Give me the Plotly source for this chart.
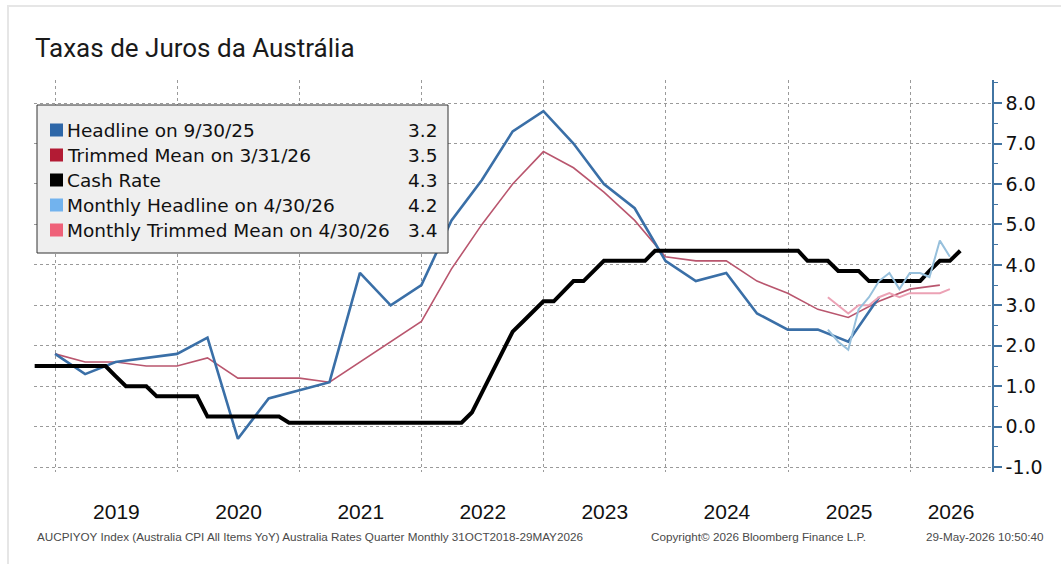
import pandas as pd
import plotly.graph_objects as go

# ---- data -------------------------------------------------------------
# Quarterly CPI, year-on-year %, quarter ends from Dec 2018
headline = [1.8, 1.3, 1.6, 1.7, 1.8, 2.2, -0.3, 0.7, 0.9, 1.1, 3.8, 3.0, 3.5,
            5.1, 6.1, 7.3, 7.8, 7.0, 6.0, 5.4, 4.1, 3.6, 3.8, 2.8, 2.4, 2.4,
            2.1, 3.2]
trimmed_mean = [1.8, 1.6, 1.6, 1.5, 1.5, 1.7, 1.2, 1.2, 1.2, 1.1, 1.6, 2.1,
                2.6, 3.9, 5.0, 6.0, 6.8, 6.4, 5.8, 5.1, 4.2, 4.1, 4.1, 3.6,
                3.3, 2.9, 2.7, 3.1, 3.4, 3.5]

# RBA cash rate, month ends from Oct 2018
cash_rate = (
    [1.5, 1.5, 1.5]                                                        # 2018
    + [1.5, 1.5, 1.5, 1.5, 1.5, 1.25, 1.0, 1.0, 1.0, 0.75, 0.75, 0.75]     # 2019
    + [0.75, 0.75, 0.25, 0.25, 0.25, 0.25, 0.25, 0.25, 0.25, 0.25, 0.1, 0.1]  # 2020
    + [0.1] * 12                                                           # 2021
    + [0.1, 0.1, 0.1, 0.1, 0.35, 0.85, 1.35, 1.85, 2.35, 2.6, 2.85, 3.1]   # 2022
    + [3.1, 3.35, 3.6, 3.6, 3.85, 4.1, 4.1, 4.1, 4.1, 4.1, 4.35, 4.35]     # 2023
    + [4.35] * 12                                                          # 2024
    + [4.35, 4.1, 4.1, 4.1, 3.85, 3.85, 3.85, 3.6, 3.6, 3.6, 3.6, 3.6]     # 2025
    + [3.6, 3.85, 4.1, 4.1, 4.35]                                          # 2026
)

# Monthly CPI indicator, month ends from Apr 2025
monthly_headline = [2.4, 2.1, 1.9, 2.9, 3.2, 3.6, 3.8, 3.4, 3.8, 3.8, 3.7, 4.6, 4.2]
monthly_trimmed = [3.2, 3.0, 2.8, 3.0, 3.0, 3.2, 3.3, 3.2, 3.3, 3.3, 3.3, 3.3, 3.4]

years = [2019, 2020, 2021, 2022, 2023, 2024, 2025, 2026]
y_ticks = [-1, 0, 1, 2, 3, 4, 5, 6, 7, 8]

quarter_ends = pd.date_range("2018-12-31", periods=len(trimmed_mean), freq=pd.offsets.QuarterEnd())
headline_dates = quarter_ends[:len(headline)]
trimmed_dates = quarter_ends
cash_dates = pd.date_range("2018-10-31", periods=len(cash_rate), freq=pd.offsets.MonthEnd())
monthly_dates = pd.date_range("2025-04-30", periods=len(monthly_headline), freq=pd.offsets.MonthEnd())

x_start = pd.Timestamp("2018-10-29")
x_end = pd.Timestamp("2026-09-03")

# ---- styling ------------------------------------------------------------
C_HEAD, C_HEAD_KEY = "#3A6FA7", "#2E67A8"
C_TRIM, C_TRIM_KEY = "#B9566E", "#B31B34"
C_CASH = "#000000"
C_MHEAD, C_MHEAD_KEY = "#97C0DC", "#72B3EE"
C_MTRIM, C_MTRIM_KEY = "#ECA2B5", "#EF6179"
GRID = "#9A9A9A"
AXIS_BLUE = "#4275A3"
BOX_FONT = "DejaVu Sans"

fig = go.Figure()
fig.add_trace(go.Scatter(x=trimmed_dates, y=trimmed_mean, mode="lines",
                         line=dict(color=C_TRIM, width=1.6), name="Trimmed Mean"))
fig.add_trace(go.Scatter(x=headline_dates, y=headline, mode="lines",
                         line=dict(color=C_HEAD, width=2.6), name="Headline"))
fig.add_trace(go.Scatter(x=cash_dates, y=cash_rate, mode="lines",
                         line=dict(color=C_CASH, width=4), name="Cash Rate"))
fig.add_trace(go.Scatter(x=monthly_dates, y=monthly_trimmed, mode="lines",
                         line=dict(color=C_MTRIM, width=2), name="Monthly Trimmed Mean"))
fig.add_trace(go.Scatter(x=monthly_dates, y=monthly_headline, mode="lines",
                         line=dict(color=C_MHEAD, width=2), name="Monthly Headline"))

# Year labels centred on the visible part of each calendar year
year_starts = [pd.Timestamp(f"{y}-01-01") for y in years]
label_pos = []
for y in years:
    a = max(pd.Timestamp(f"{y}-01-01"), x_start)
    b = min(pd.Timestamp(f"{y + 1}-01-01"), x_end)
    label_pos.append(a + (b - a) / 2)

fig.update_xaxes(
    type="date", range=[x_start, x_end],
    tickmode="array", tickvals=label_pos, ticktext=[str(y) for y in years],
    showgrid=False, zeroline=False, showline=False, ticks="",
    tickfont=dict(family="Liberation Sans", size=21, color="#111111"),
    ticklabelstandoff=25,
    minor=dict(tickmode="array", tickvals=year_starts, showgrid=True,
               gridcolor=GRID, griddash="dot", gridwidth=1, ticks=""),
)
fig.update_yaxes(
    side="right", range=[-1.12, 8.57],
    tickmode="array", tickvals=y_ticks, ticktext=[f"{v:.1f}" for v in y_ticks],
    showgrid=True, gridcolor=GRID, griddash="dot", gridwidth=1,
    zeroline=False, showline=True, linecolor=AXIS_BLUE, linewidth=1.5,
    ticks="outside", ticklen=8, tickwidth=2, tickcolor=AXIS_BLUE,
    tickfont=dict(family=BOX_FONT, size=19, color="#111111"),
    minor=dict(tickmode="linear", tick0=-0.5, dtick=1, ticks="outside", ticklen=4,
               tickwidth=1, tickcolor=AXIS_BLUE, showgrid=False),
)

# ---- page geometry ----------------------------------------------------------
W, H = 1061, 564
ML, MR, MT, MB = 34, 69, 80, 92
PW, PH = W - ML - MR, H - MT - MB


def px_x(p):
    return (p - ML) / PW


def px_y(p):
    return 1 - (p - MT) / PH


shapes = []
annotations = []

# outer card frame
shapes.append(dict(type="rect", xref="paper", yref="paper",
                   x0=px_x(8), x1=px_x(1075), y0=px_y(580), y1=px_y(6),
                   line=dict(color="#E6E6E6", width=2), fillcolor="rgba(0,0,0,0)",
                   layer="below"))

# title
annotations.append(dict(text="Taxas de Juros da Austrália", xref="paper", yref="paper",
                        x=px_x(33), y=px_y(48), xanchor="left", yanchor="middle",
                        showarrow=False,
                        font=dict(family="Roboto", size=26, color="#1A1A1A")))

# legend box with last values
def short_date(d):
    return f"{d.month}/{d.day}/{d:%y}"


legend_rows = [
    (f"Headline on {short_date(headline_dates[-1])}", headline[-1], C_HEAD_KEY),
    (f"Trimmed Mean on {short_date(trimmed_dates[-1])}", trimmed_mean[-1], C_TRIM_KEY),
    ("Cash Rate", cash_rate[-1], C_CASH),
    (f"Monthly Headline on {short_date(monthly_dates[-1])}", monthly_headline[-1], C_MHEAD_KEY),
    (f"Monthly Trimmed Mean on {short_date(monthly_dates[-1])}", monthly_trimmed[-1], C_MTRIM_KEY),
]

shapes.append(dict(type="rect", xref="paper", yref="paper",
                   x0=px_x(37), x1=px_x(448), y0=px_y(253), y1=px_y(105),
                   line=dict(color="#333333", width=1), fillcolor="#EFEFEF"))
row0, row_step = 130, 25
for i, (label, value, colour) in enumerate(legend_rows):
    cy = row0 + i * row_step
    shapes.append(dict(type="rect", xref="paper", yref="paper",
                       x0=px_x(50), x1=px_x(63), y0=px_y(cy + 6.5), y1=px_y(cy - 6.5),
                       line=dict(width=0), fillcolor=colour))
    annotations.append(dict(text=label, xref="paper", yref="paper",
                            x=px_x(65), y=px_y(cy), xanchor="left", yanchor="middle",
                            showarrow=False,
                            font=dict(family=BOX_FONT, size=18.5, color="#111111")))
    annotations.append(dict(text=f"{value:.1f}", xref="paper", yref="paper",
                            x=px_x(439), y=px_y(cy), xanchor="right", yanchor="middle",
                            showarrow=False,
                            font=dict(family=BOX_FONT, size=18.5, color="#111111")))

# footer
foot = dict(family="Liberation Sans", size=11.7, color="#4A4A4A")
annotations.append(dict(text="AUCPIYOY Index (Australia CPI All Items YoY) Australia Rates Quarter Monthly 31OCT2018-29MAY2026",
                        xref="paper", yref="paper", x=px_x(35), y=px_y(536),
                        xanchor="left", yanchor="middle", showarrow=False, font=foot))
annotations.append(dict(text="Copyright© 2026 Bloomberg Finance L.P.",
                        xref="paper", yref="paper", x=px_x(649), y=px_y(536),
                        xanchor="left", yanchor="middle", showarrow=False, font=foot))
annotations.append(dict(text="29-May-2026 10:50:40",
                        xref="paper", yref="paper", x=px_x(1046), y=px_y(536),
                        xanchor="right", yanchor="middle", showarrow=False, font=foot))

fig.update_layout(
    width=W, height=H,
    margin=dict(l=ML, r=MR, t=MT, b=MB),
    paper_bgcolor="white", plot_bgcolor="white",
    showlegend=False,
    shapes=shapes, annotations=annotations,
)

fig.write_html("out.html")
